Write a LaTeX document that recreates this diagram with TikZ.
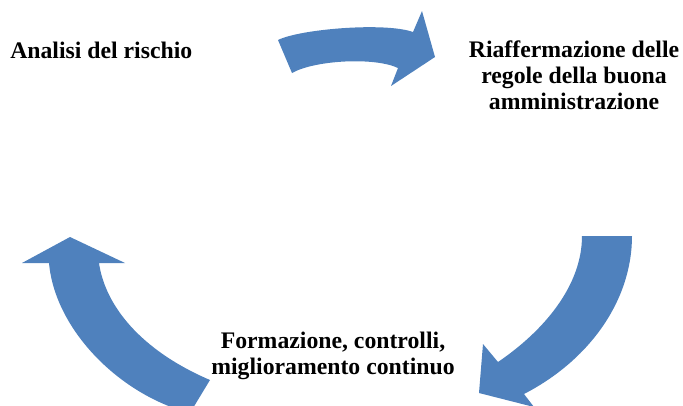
\documentclass[tikz,border=0pt]{standalone}
\usepackage{fontspec}
\setmainfont{Liberation Serif}
\usepackage{tikz}

\begin{document}
\begin{tikzpicture}[x=0.75pt,y=-0.75pt,
  label/.style={font=\bfseries\fontsize{17.8}{19.3}\selectfont,align=center,inner sep=0pt},
  bluearrow/.style={fill={rgb,255:red,79;green,129;blue,189}}]
\useasboundingbox (0,0) rectangle (683,405);

% Testi
\node [label,anchor=base west] (analisi) at (10,58) {Analisi del rischio};
\node [label,anchor=base] (regole) at (574,109) {Riaffermazione delle\\regole della buona\\amministrazione};
\node [label,anchor=base] (formazione) at (333,374) {Formazione, controlli,\\miglioramento continuo};

% Frecce curve
\fill[bluearrow] (278,40) .. controls (300,29) and (385,22) .. (413,32)
  -- (422,11) -- (435,57) -- (391,86) -- (398,68)
  .. controls (375,57) and (315,60) .. (292,73) -- cycle;
\fill[bluearrow] (582,236) -- (632,236)
  .. controls (632,300) and (590,360) .. (524,394)
  -- (534,407) -- (479,393) -- (483,344) -- (498,362)
  .. controls (545,330) and (582,285) .. cycle;
\fill[bluearrow] (210,380) .. controls (140,350) and (105,305) .. (99,263)
  -- (125,263) -- (70,237) -- (22,263) -- (49,263)
  .. controls (55,330) and (120,395) .. (190,413) -- cycle;
\end{tikzpicture}
\end{document}
